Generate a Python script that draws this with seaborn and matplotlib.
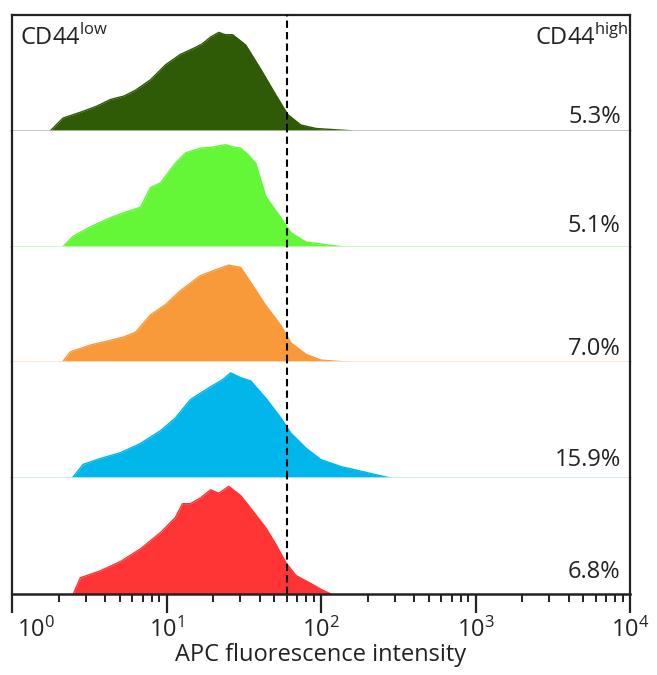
import numpy as np
import pandas as pd
import seaborn as sns
import matplotlib
matplotlib.use("Agg")
import matplotlib.pyplot as plt
import matplotlib.transforms as mtransforms
from matplotlib.ticker import LogLocator, NullFormatter

# ---------------- data (APC intensity, normalised counts) ----------------
int_1 = [1.77, 2.14, 2.77, 3.5, 4.33, 5.3, 6.29, 7.87, 9.86, 12.3, 15.4, 17.0, 19.3, 21.8, 24.0, 26.8, 32.6, 40.8, 51.0, 61.0, 74.1, 92.8, 157]
cnt_1 = [0.00, 0.11, 0.16, 0.21, 0.27, 0.30, 0.35, 0.44, 0.57, 0.66, 0.72, 0.75, 0.81, 0.85, 0.83, 0.83, 0.74, 0.53, 0.31, 0.14, 0.05, 0.02, 0.00]

int_2 = [2.14, 2.49, 3.21, 4.33, 5.5, 6.78, 7.87, 9.14, 11.4, 13.3, 16.6, 20.0, 24.2, 27.0, 30.2, 34.0, 37.8, 44.0, 55.0, 63.8, 79.9, 116, 135]
cnt_2 = [0.00, 0.09, 0.17, 0.25, 0.30, 0.34, 0.51, 0.55, 0.72, 0.81, 0.85, 0.86, 0.88, 0.86, 0.85, 0.79, 0.72, 0.43, 0.25, 0.12, 0.04, 0.01, 0.00]

int_3 = [2.11, 2.38, 3.21, 4.33, 5.3, 6.29, 7.87, 9.86, 12.3, 16.6, 20.8, 25.3, 30.2, 35.1, 44.0, 55.0, 63.8, 79.9, 100, 157]
cnt_3 = [0.00, 0.09, 0.15, 0.19, 0.22, 0.26, 0.41, 0.50, 0.62, 0.75, 0.80, 0.84, 0.82, 0.69, 0.49, 0.32, 0.17, 0.07, 0.02, 0.00]

int_4 = [2.45, 2.89, 3.73, 5.03, 6.78, 9.14, 11.4, 14.3, 19.3, 23.0, 26.0, 30.0, 35.1, 44.0, 55.0, 63.8, 79.9, 100, 135, 182, 264, 284]
cnt_4 = [0.00, 0.12, 0.17, 0.22, 0.30, 0.41, 0.52, 0.68, 0.79, 0.85, 0.91, 0.87, 0.84, 0.69, 0.52, 0.39, 0.26, 0.16, 0.10, 0.06, 0.01, 0.00]

int_5 = [2.49, 2.77, 3.73, 5.03, 6.78, 9.14, 11.4, 12.7, 14.3, 16.6, 19.3, 21.8, 25.3, 30.2, 35.1, 44.0, 51.0, 59.3, 68.8, 86.1, 100, 116]
cnt_5 = [0.00, 0.14, 0.20, 0.28, 0.39, 0.53, 0.66, 0.78, 0.78, 0.83, 0.90, 0.87, 0.93, 0.85, 0.74, 0.57, 0.43, 0.27, 0.16, 0.09, 0.04, 0.00]

percent_labels = ["5.3%", "5.1%", "7.0%", "15.9%", "6.8%"]
gate = 60
x_ticks = [1, 10, 100, 1000, 10000]

series = [(int_1, cnt_1), (int_2, cnt_2), (int_3, cnt_3), (int_4, cnt_4), (int_5, cnt_5)]
colors = ["#2f5a06", "#63f737", "#f99a3a", "#00b6ea", "#ff3434"]
base_colors = ["#b9c4ad", "#c8f7b8", "#fbe3cc", "#bdeaf7", "#000000"]
label_y = [0.12, 0.18, 0.12, 0.16, 0.19]

sns.set_theme(style="white")
plt.rcParams['font.family'] = ['Open Sans', 'DejaVu Sans']
plt.rcParams['mathtext.fontset'] = 'custom'
plt.rcParams['mathtext.rm'] = 'Open Sans'

W, H = 657, 675
fig = plt.figure(figsize=(W / 100, H / 100), dpi=100)
gs = fig.add_gridspec(5, 1, left=12 / W, right=630 / W, top=1 - 15 / H, bottom=1 - 594 / H, hspace=0)
axes = [fig.add_subplot(gs[i]) for i in range(5)]
for i in range(1, 5):
    axes[i].sharex(axes[0])

for i, ax in enumerate(axes):
    xs, ys = series[i]
    df = pd.DataFrame({"intensity": xs, "count": ys})
    sns.lineplot(data=df, x="intensity", y="count", ax=ax, color=colors[i], lw=1.0, sort=True)
    ax.fill_between(df["intensity"], df["count"], 0, color=colors[i], lw=0)
    ax.set_xscale("log")
    ax.set_xlim(1, 1e4)
    ax.set_ylim(0, 1)
    ax.set_ylabel("")
    ax.set_xlabel("")
    ax.set_yticks([])
    if i < 4:
        ax.axhline(0, color=base_colors[i], lw=1.2, zorder=3)
    ax.axvline(gate, color="black", lw=1.5, ls=(0, (3.5, 2)), zorder=4)
    for s in ["left", "right", "top", "bottom"]:
        ax.spines[s].set_visible(False)
    ax.spines["left"].set_visible(True)
    ax.spines["right"].set_visible(True)
    ax.spines["left"].set_color("#222222")
    ax.spines["right"].set_color("#222222")
    ax.spines["left"].set_linewidth(1.6)
    ax.spines["right"].set_linewidth(1.6)
    ax.text(0.985, label_y[i], percent_labels[i], transform=ax.transAxes,
            ha="right", va="center", fontsize=17, color="#222222")
    if i < 4:
        ax.tick_params(axis="x", which="both", bottom=False, labelbottom=False)

top = axes[0]
top.spines["top"].set_visible(True)
top.spines["top"].set_color("#222222")
top.spines["top"].set_linewidth(1.6)
top.text(0.013, 0.80, r"CD44$^{\mathregular{low}}$", transform=top.transAxes,
         ha="left", va="center", fontsize=17, color="#222222")
top.text(0.998, 0.80, r"CD44$^{\mathregular{high}}$", transform=top.transAxes,
         ha="right", va="center", fontsize=17, color="#222222")

bot = axes[4]
bot.spines["bottom"].set_visible(True)
bot.spines["bottom"].set_color("#222222")
bot.spines["bottom"].set_linewidth(1.8)
bot.set_xticks(x_ticks)
bot.xaxis.set_minor_locator(LogLocator(base=10, subs=np.arange(2, 10)))
bot.xaxis.set_minor_formatter(NullFormatter())
bot.tick_params(axis="x", which="major", bottom=True, direction="out", length=14, width=1.6,
                color="#222222", labelsize=17, pad=3, labelcolor="#222222", labelbottom=True)
bot.tick_params(axis="x", which="minor", bottom=True, direction="out", length=6, width=1.4, color="#222222")
bot.set_xlabel("APC fluorescence intensity", fontsize=17, color="#222222", labelpad=0)

fig.canvas.draw()
lbl0 = bot.get_xticklabels()[0]
lbl0.set_transform(lbl0.get_transform() + mtransforms.ScaledTranslation(24 / 100, 0, fig.dpi_scale_trans))

fig.savefig("out.png", dpi=100, facecolor="white")
